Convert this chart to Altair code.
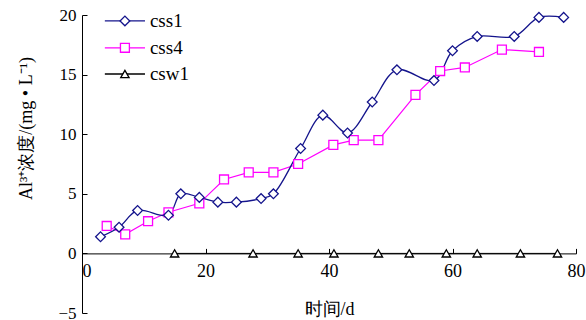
import altair as alt
import pandas as pd

# ---- data ----
css1_x = [3, 6, 9, 14, 16, 19, 22, 25, 29, 31, 35.4, 39, 43, 47, 51, 57, 60, 64, 70, 74, 78]
css1_y = [1.4, 2.2, 3.6, 3.2, 5.0, 4.7, 4.3, 4.3, 4.6, 5.0, 8.8, 11.6, 10.1, 12.7, 15.4, 14.5, 17.0, 18.2, 18.2, 19.8, 19.8]
css4_x = [4, 7, 10.7, 14, 19, 23, 27, 31, 35, 40.7, 44, 48, 54, 58, 62, 68, 74]
css4_y = [2.3, 1.6, 2.7, 3.45, 4.2, 6.2, 6.8, 6.8, 7.5, 9.1, 9.5, 9.5, 13.3, 15.3, 15.6, 17.1, 16.9]
csw1_x = [15, 27.7, 35, 40.8, 48, 53, 59, 64, 71, 77]
csw1_y = [0, 0, 0, 0, 0, 0, 0, 0, 0, 0]

series_names = ["css1", "css4", "csw1"]
series_colors = ["#14148c", "#ff00ff", "#000000"]
series_shapes = ["diamond", "square", "triangle-up"]
series_sizes = [95, 80, 70]
x_ticks = [0, 20, 40, 60, 80]
y_ticks = [-5, 0, 5, 10, 15, 20]

# legend placement in data units
legend_x1, legend_x2, legend_xs, legend_xt = 3.7, 10.2, 6.95, 11.0
legend_y = [19.5, 17.25, 15.05]

df1 = pd.DataFrame({"x": css1_x, "y": css1_y})
df4 = pd.DataFrame({"x": css4_x, "y": css4_y})
dfw = pd.DataFrame({"x": csw1_x, "y": csw1_y})

W, H = 494, 298
xs = alt.Scale(domain=[0, 80], nice=False, zero=False)
ys = alt.Scale(domain=[-5, 20], nice=False, zero=False)

serif = "Times New Roman, serif"

xaxis = alt.Axis(
    values=x_ticks, title="时间/d", offset=-H * 5 / 25,
    tickSize={"expr": "-5"}, labelPadding=14, grid=False,
    labelAlign={"condition": {"test": "datum.value == 0", "value": "left"}, "value": "center"},
    titlePadding=20,
)
yaxis = alt.Axis(
    values=y_ticks, title="Al³⁺浓度/(mg • L⁻¹)",
    tickSize={"expr": "-5"}, labelPadding=11, grid=False, labelFontSize=17,
    titleY=113, titlePadding=22,
)


def X(f="x"):
    return alt.X(f"{f}:Q", scale=xs, axis=xaxis)


def Y(f="y"):
    return alt.Y(f"{f}:Q", scale=ys, axis=yaxis)


layers = []
layers.append(alt.Chart(dfw).mark_line(color=series_colors[2], strokeWidth=1).encode(x=X(), y=Y()))
layers.append(alt.Chart(df4).mark_line(color=series_colors[1], strokeWidth=1.2).encode(x=X(), y=Y()))
layers.append(alt.Chart(df1).mark_line(color=series_colors[0], strokeWidth=1.3,
                                       interpolate="catmull-rom").encode(x=X(), y=Y()))
for df, i in [(dfw, 2), (df4, 1), (df1, 0)]:
    layers.append(alt.Chart(df).mark_point(shape=series_shapes[i], size=series_sizes[i], filled=True,
                                           fill="white", stroke=series_colors[i], strokeWidth=1.3,
                                           opacity=1).encode(x=X(), y=Y()))

# legend
for i in range(3):
    leg = pd.DataFrame({"x": [legend_x1], "x2": [legend_x2], "xs": [legend_xs], "xt": [legend_xt],
                        "y": [legend_y[i]], "name": [series_names[i]]})
    layers.append(alt.Chart(leg).mark_rule(color=series_colors[i], strokeWidth=1.3).encode(
        x=X(), x2="x2:Q", y=Y()))
    layers.append(alt.Chart(leg).mark_point(shape=series_shapes[i], size=series_sizes[i],
                                            filled=True, fill="white", stroke=series_colors[i],
                                            strokeWidth=1.3, opacity=1).encode(x=X("xs"), y=Y()))
    layers.append(alt.Chart(leg).mark_text(align="left", baseline="middle", font=serif,
                                           fontSize=19, color="black").encode(
        x=X("xt"), y=Y(), text="name:N"))

chart = alt.layer(*layers).properties(
    width=W, height=H,
    autosize=alt.AutoSizeParams(type="none"),
    padding={"left": 82, "top": 15, "right": 10, "bottom": 7},
    background="white",
).configure_view(stroke=None).configure_axis(
    domainColor="black", tickColor="black", domainWidth=1, tickWidth=1,
    labelFont=serif, labelFontSize=18, labelColor="black",
    titleFont=serif, titleFontSize=18, titleFontWeight="normal", titleColor="black",
)

chart.save("out.html", embed_options={"renderer": "svg", "actions": False})
